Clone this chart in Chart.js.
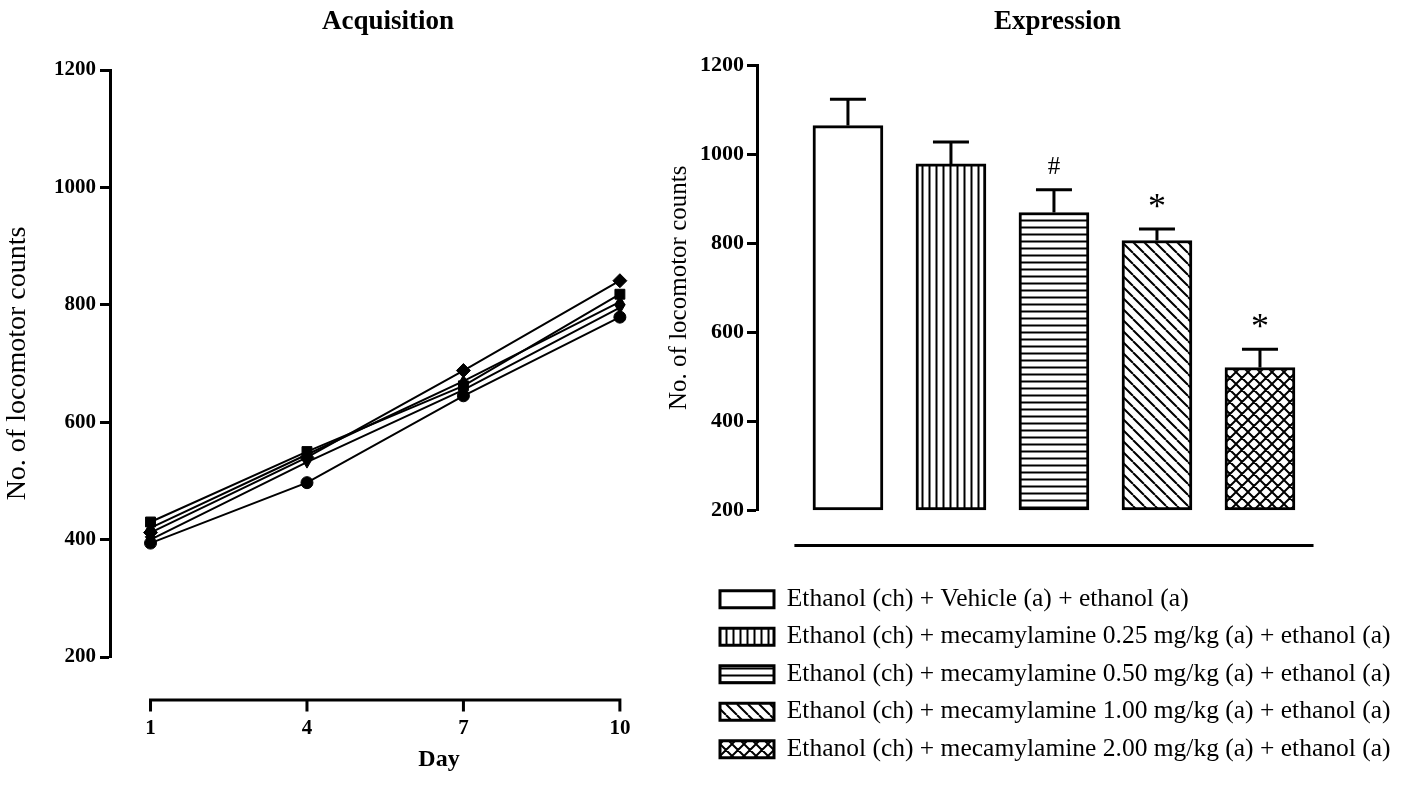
<!DOCTYPE html>
<html><head><meta charset="utf-8">
<script src="https://cdn.jsdelivr.net/npm/chart.js@4.4.0/dist/chart.umd.min.js"></script>
<style>
html,body{margin:0;padding:0;background:#fff;width:1405px;height:790px;overflow:hidden;}
#c1{position:absolute;left:0;top:0;}
#c2{position:absolute;left:660px;top:0;}
</style></head><body>
<canvas id="c1" width="776" height="790"></canvas>
<canvas id="c2" width="745" height="790"></canvas>
<script>
// ---------- Acquisition (left) ----------
const days = [1, 4, 7, 10];
const dayTicks = [1, 4, 7, 10];
const seriesSquare   = [430, 550, 662, 818];
const seriesTriangle = [420, 545, 670, 805];
const seriesDiamond  = [412, 540, 688, 841];
const seriesInverted = [400, 532, 655, 795];
const seriesCircle   = [394, 497, 645, 779];
const yMinLeft = 200, yMaxLeft = 1200, yStepLeft = 200;

// ---------- Expression (right) ----------
const groups = [
  'Ethanol (ch) + Vehicle (a) + ethanol (a)',
  'Ethanol (ch) + mecamylamine 0.25 mg/kg (a) + ethanol (a)',
  'Ethanol (ch) + mecamylamine 0.50 mg/kg (a) + ethanol (a)',
  'Ethanol (ch) + mecamylamine 1.00 mg/kg (a) + ethanol (a)',
  'Ethanol (ch) + mecamylamine 2.00 mg/kg (a) + ethanol (a)'
];
const groupMeans = [1064, 978, 869, 806, 521];
const groupSEM   = [59, 49, 51, 26, 41];
const groupMarks = ['', '', '#', '*', '*'];
const yMinRight = 200, yMaxRight = 1200, yStepRight = 200;

const serif = "'Liberation Serif','Times New Roman',Times,serif";
Chart.defaults.font.family = serif;
Chart.defaults.color = '#000';

function makePattern(kind) {
  const s = (kind === 'v' || kind === 'h') ? 7 : (kind === 'd' ? 11 : 12);
  const c = document.createElement('canvas');
  c.width = s; c.height = s;
  const g = c.getContext('2d');
  g.fillStyle = '#fff'; g.fillRect(0, 0, s, s);
  if (kind === 'none') return g.createPattern(c, 'repeat');
  g.strokeStyle = '#000'; g.lineWidth = 2;
  g.beginPath();
  if (kind === 'v') { g.moveTo(s / 2, 0); g.lineTo(s / 2, s); }
  else if (kind === 'h') { g.moveTo(0, s / 2); g.lineTo(s, s / 2); }
  else {
    for (const k of [-s, 0, s]) { g.moveTo(k, 0); g.lineTo(k + s, s); }
    if (kind === 'x') for (const k of [-s, 0, s]) { g.moveTo(k + s, 0); g.lineTo(k, s); }
  }
  g.stroke();
  return g.createPattern(c, 'repeat');
}
const patternKinds = ['none', 'v', 'h', 'd', 'x'];
const patterns = patternKinds.map(makePattern);

const plainNumber = v => String(v);

function lineSet(values, style, rot, r) {
  return {
    data: days.map((d, i) => ({x: d, y: values[i]})),
    borderColor: '#000', backgroundColor: '#000', borderWidth: 2,
    pointStyle: style, pointRotation: rot, pointRadius: r,
    pointBorderWidth: 1, pointBorderColor: '#000', pointBackgroundColor: '#000', tension: 0
  };
}

const leftXAxisPlugin = {
  id: 'leftXAxis',
  afterDraw(ch) {
    const xs = ch.scales.x, ctx = ch.ctx;
    const y0 = ch.chartArea.bottom + 43;
    ctx.save();
    ctx.strokeStyle = '#000'; ctx.lineWidth = 3; ctx.lineCap = 'square';
    ctx.beginPath();
    ctx.moveTo(xs.getPixelForValue(days[0]), y0);
    ctx.lineTo(xs.getPixelForValue(days[days.length - 1]), y0);
    dayTicks.forEach(d => { const px = xs.getPixelForValue(d); ctx.moveTo(px, y0); ctx.lineTo(px, y0 + 10); });
    ctx.stroke();
    ctx.restore();
  }
};

new Chart(document.getElementById('c1'), {
  type: 'line',
  data: { datasets: [
    lineSet(seriesCircle, 'circle', 0, 6),
    lineSet(seriesInverted, 'triangle', 180, 6),
    lineSet(seriesTriangle, 'triangle', 0, 6),
    lineSet(seriesDiamond, 'rectRot', 0, 7),
    lineSet(seriesSquare, 'rect', 0, 7)
  ]},
  options: {
    responsive: false, animation: false, devicePixelRatio: 1,
    layout: { padding: { left: 0, right: 0, top: 0, bottom: 16 } },
    plugins: {
      legend: { display: false }, tooltip: { enabled: false },
      title: { display: true, text: 'Acquisition', font: { size: 27, weight: 'bold' }, color: '#000', padding: { top: 6, bottom: 31.6 } }
    },
    scales: {
      x: {
        type: 'linear', min: 0.223, max: 12.84, offset: false,
        grid: { display: false, drawTicks: false }, border: { display: false },
        ticks: { padding: 59, font: { size: 21, weight: 'bold' }, autoSkip: false, maxRotation: 0, color: '#000', callback: plainNumber },
        afterBuildTicks: s => { s.ticks = dayTicks.map(v => ({ value: v })); },
        title: { display: true, text: 'Day', font: { size: 24, weight: 'bold' }, color: '#000', padding: { top: 4, bottom: 0 } },
        afterFit: s => { s.height = 117; }
      },
      y: {
        min: yMinLeft, max: yMaxLeft,
        ticks: { stepSize: yStepLeft, font: { size: 21, weight: 'bold' }, padding: 4, color: '#000', callback: plainNumber },
        grid: { drawOnChartArea: false, drawTicks: true, tickLength: 10, tickWidth: 3, color: '#000' },
        border: { display: true, width: 3, color: '#000' },
        title: { display: true, text: 'No. of locomotor counts', font: { size: 28 }, color: '#000', padding: { top: 1, bottom: 0 } },
        afterFit: s => { s.width = 110; }
      }
    }
  },
  plugins: [leftXAxisPlugin]
});

const barExtrasPlugin = {
  id: 'barExtras',
  afterLayout(ch) {
    // nudge the full-width title and legend blocks to match the original placement
    if (ch.titleBlock) { ch.titleBlock.left += 6; ch.titleBlock.right += 6; }
    if (ch.legend) { ch.legend.left += 10; ch.legend.right += 10; }
  },
  afterDatasetsDraw(ch) {
    const meta = ch.getDatasetMeta(0), ys = ch.scales.y, xs = ch.scales.x, ctx = ch.ctx;
    ctx.save();
    ctx.strokeStyle = '#000'; ctx.fillStyle = '#000'; ctx.lineWidth = 3;
    meta.data.forEach((bar, i) => {
      const top = ys.getPixelForValue(groupMeans[i] + groupSEM[i]);
      ctx.beginPath();
      ctx.moveTo(bar.x, bar.y); ctx.lineTo(bar.x, top);
      ctx.moveTo(bar.x - 18, top); ctx.lineTo(bar.x + 18, top);
      ctx.stroke();
      const mark = groupMarks[i];
      if (mark) {
        const size = mark === '#' ? 25 : 36;
        const gap = mark === '#' ? 24 : 28;
        ctx.font = size + 'px ' + serif;
        ctx.textAlign = 'center'; ctx.textBaseline = 'alphabetic';
        const m = ctx.measureText(mark);
        const cy = top - gap;
        const base = cy + (m.actualBoundingBoxAscent - m.actualBoundingBoxDescent) / 2;
        ctx.fillText(mark, bar.x, base);
      }
    });
    // detached x-axis line under the bars
    const yl = ch.chartArea.bottom + 35;
    ctx.lineWidth = 3;
    ctx.beginPath();
    ctx.moveTo(xs.getPixelForValue(-0.52), yl);
    ctx.lineTo(xs.getPixelForValue(groups.length - 1 + 0.52), yl);
    ctx.stroke();
    ctx.restore();
  }
};

new Chart(document.getElementById('c2'), {
  type: 'bar',
  data: { datasets: [{
    data: groupMeans.map((v, i) => ({ x: i, y: v })),
    backgroundColor: patterns, borderColor: '#000', borderWidth: 3, borderSkipped: false,
    barThickness: 70, base: yMinRight, clip: false
  }]},
  options: {
    responsive: false, animation: false, devicePixelRatio: 1,
    layout: { padding: { left: 38, right: 0, top: 0, bottom: 18 } },
    plugins: {
      tooltip: { enabled: false },
      title: { display: true, text: 'Expression', font: { size: 27, weight: 'bold' }, color: '#000', padding: { top: 6, bottom: 26.6 } },
      legend: {
        display: true, position: 'bottom', align: 'start',
        labels: {
          boxWidth: 54, boxHeight: 17, padding: 12, font: { size: 25.5 }, color: '#000',
          generateLabels: () => groups.map((g, i) => ({
            text: g, fillStyle: patterns[i], strokeStyle: '#000', lineWidth: 3, hidden: false, index: i, datasetIndex: 0, fontColor: '#000'
          }))
        }
      }
    },
    scales: {
      x: {
        type: 'linear', min: -0.883, max: 5.408, display: true, offset: false,
        ticks: { display: false }, grid: { display: false, drawTicks: false, offset: false }, border: { display: false },
        afterFit: s => { s.height = 64; }
      },
      y: {
        min: yMinRight, max: yMaxRight,
        ticks: { stepSize: yStepRight, font: { size: 22, weight: 'bold' }, padding: 3, color: '#000', callback: plainNumber },
        grid: { drawOnChartArea: false, drawTicks: true, tickLength: 10, tickWidth: 3, color: '#000' },
        border: { display: true, width: 3, color: '#000' },
        title: { display: true, text: 'No. of locomotor counts', font: { size: 25 }, color: '#000', padding: { top: -34, bottom: 0 } },
        afterFit: s => { s.width = 59; }
      }
    }
  },
  plugins: [barExtrasPlugin]
});
</script>
</body></html>
